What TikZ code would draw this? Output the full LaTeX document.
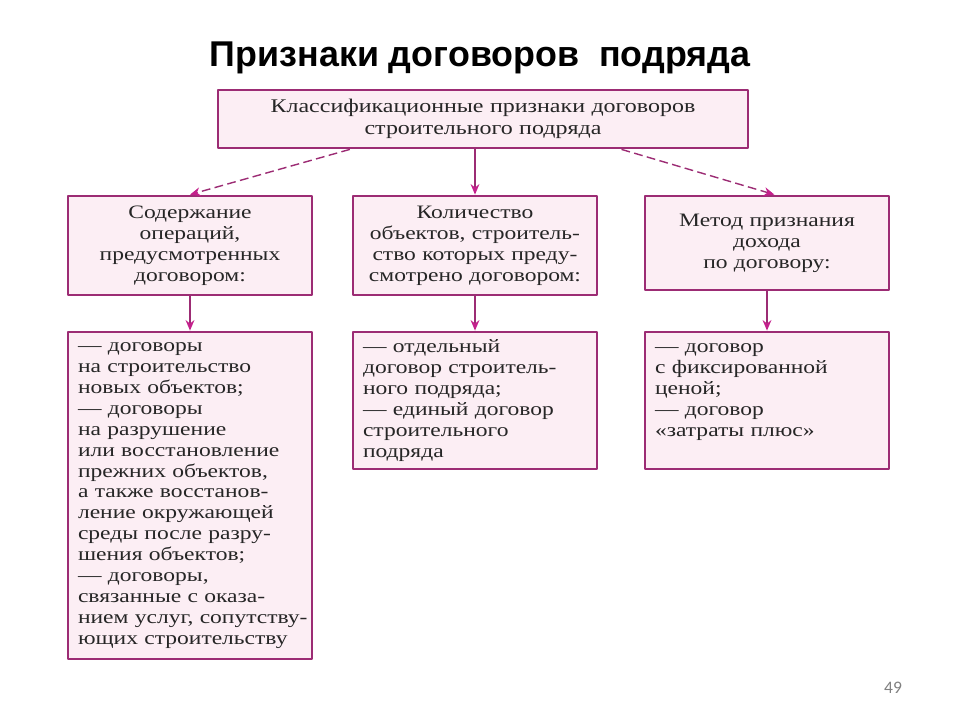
\documentclass[tikz,border=0pt]{standalone}
\usepackage{fontspec}
\setmainfont{Liberation Serif}[FakeStretch=1.24]
\newfontfamily\titlefont{Liberation Sans}
\newfontfamily\numfont{Carlito}
\usetikzlibrary{arrows.meta,calc}
\definecolor{boxline}{HTML}{9C2C74}
\definecolor{boxfill}{HTML}{FCEEF4}
\definecolor{headcol}{HTML}{C4208C}
\definecolor{txtcol}{HTML}{262626}

\begin{document}
\begin{tikzpicture}[
    x = 0.02cm, y = -0.02cm,
    line join=round,
    box/.style = {draw=boxline, line width=1.6pt, fill=boxfill, text=txtcol,
        inner xsep=0.2cm, inner ysep=0pt, font=\fontsize{10.8}{11.9}\selectfont},
    headbox/.style = {box, align=center, text width=4.48cm, minimum width=4.88cm},
    listbox/.style = {box, align=left, text width=4.48cm, minimum width=4.88cm},
    link/.style = {boxline, line width=0.8pt, -{Stealth[length=6pt, width=5pt, color=headcol]}},
    dashlink/.style = {link, dash pattern=on 5pt off 2.5pt}
]
    \useasboundingbox (0,0) rectangle (960,720);

    \node[font=\titlefont\bfseries\fontsize{20.4}{24}\selectfont] (title) at (480,58)
        {Признаки договоров\ \ подряда};

    \node[box, align=center, text width=10.2cm, minimum width=10.6cm, minimum height=1.16cm,
        font=\fontsize{11}{12.6}\selectfont] (top) at (483,119)
        {Классификационные признаки договоров\\строительного подряда};

    % second row
    \node[headbox, minimum height=1.98cm] (ops) at (190,245.5)
        {Содержание\\операций,\\предусмотренных\\договором:};
    \node[headbox, minimum height=1.98cm] (objs) at (475,245.5)
        {Количество\\объектов, строитель-\\ство которых преду-\\смотрено договором:};
    \node[headbox, minimum height=1.88cm] (method) at (767,243)
        {Метод признания\\дохода\\по договору:};

    % third row
    \node[listbox, minimum height=6.54cm] (opslist) at (190,495.5)
        {— договоры\\на строительство\\новых объектов;\\— договоры\\на разрушение\\или восстановление\\прежних объектов,\\а также восстанов-\\ление окружающей\\среды после разру-\\шения объектов;\\— договоры,\\связанные с оказа-\\\mbox{нием услуг, сопутству-}\\ющих строительству};
    \node[listbox, minimum height=2.74cm] (objslist) at (475,400.5)
        {— отдельный\\договор строитель-\\ного подряда;\\— единый договор\\строительного\\подряда};
    \node[listbox, minimum height=2.74cm] (methodlist) at (767,400.5)
        {— договор\\с фиксированной\\ценой;\\— договор\\«затраты плюс»\\\mbox{}};

    \draw[dashlink] ($(top.south west)!0.25!(top.south east)$) -- (ops.north);
    \draw[link] (objs.north |- top.south) -- (objs.north);
    \draw[dashlink] ($(top.south west)!0.76!(top.south east)$)
        -- ($(method.north west)!0.53!(method.north east)$);

    \draw[link] (ops) -- (opslist);
    \draw[link] (objs) -- (objslist);
    \draw[link] (method) -- (methodlist);

    \node[text=gray, font=\numfont\fontsize{10}{12}\selectfont] (page) at (893,688) {49};
\end{tikzpicture}
\end{document}
